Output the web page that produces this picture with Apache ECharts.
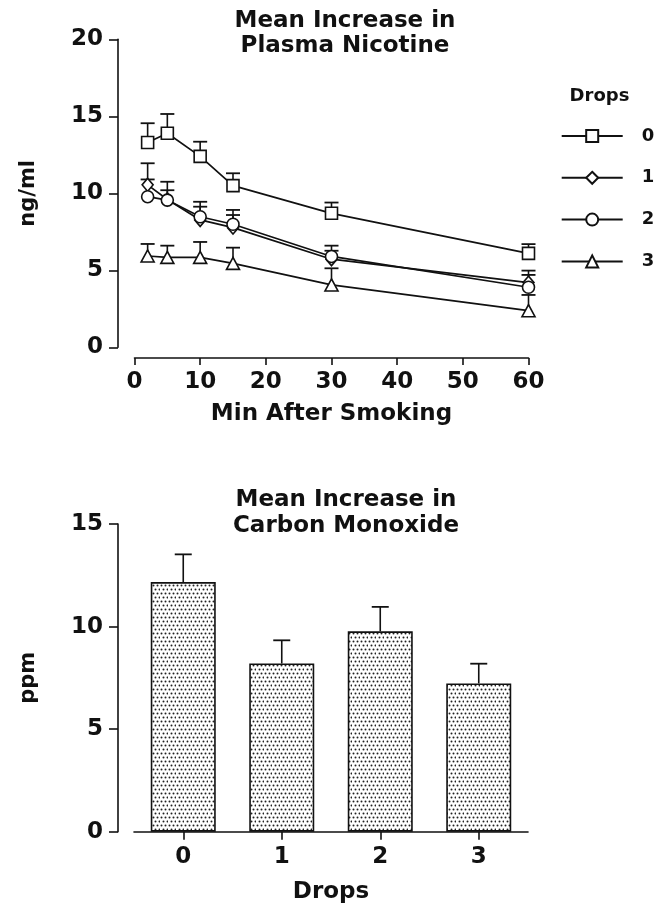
<!DOCTYPE html>
<html><head><meta charset="utf-8">
<script src="https://cdn.jsdelivr.net/npm/echarts@6/dist/echarts.min.js"></script>
<style>html,body{margin:0;padding:0;background:#fff}#c{width:666px;height:905px}</style>
</head><body><div id="c"></div>
<script>
// ---- data ----
const minutes = [2, 5, 10, 15, 30, 60];
const drops0 = [13.3, 13.9, 12.4, 10.5, 8.7, 6.1];
const drops0Err = [14.55, 15.15, 13.35, 11.3, 9.4, 6.7];
const drops1 = [10.55, 9.6, 8.27, 7.77, 5.72, 4.2];
const drops1Err = [11.95, 10.75, 9.45, 8.92, 6.6, 4.98];
const drops2 = [9.78, 9.56, 8.48, 7.99, 5.9, 3.9];
const drops2Err = [10.9, 10.2, 9.13, 8.59, 6.27, 4.7];
const drops3 = [5.93, 5.84, 5.84, 5.45, 4.05, 2.38];
const drops3Err = [6.71, 6.6, 6.84, 6.47, 5.13, 3.4];
const seriesNames = ['0', '1', '2', '3'];
const minuteTicks = [0, 10, 20, 30, 40, 50, 60];
const barCategories = ['0', '1', '2', '3'];
const coValues = [12.17, 8.2, 9.77, 7.23];
const coErr = [13.52, 9.33, 10.96, 8.19];

// ---- style ----
const F = 'DejaVu Sans';
const INK = '#111';
const pc = document.createElement('canvas');
pc.width = 8; pc.height = 8;
const g = pc.getContext('2d');
g.fillStyle = '#fff'; g.fillRect(0, 0, 8, 8);
g.fillStyle = '#222';
[[1, 1], [5, 1], [3, 5], [7, 5]].forEach(([x, y]) => { g.beginPath(); g.arc(x + 0.5, y + 0.5, 1.0, 0, Math.PI * 2); g.fill(); });

const chart = echarts.init(document.getElementById('c'), null, {renderer: 'canvas'});

function errSeries(data, capW, xi, yi) {
  return {
    type: 'custom', xAxisIndex: xi, yAxisIndex: yi, z: 1, silent: true,
    encode: {x: 0, y: [1, 2]},
    data: data,
    renderItem(params, api) {
      const p0 = api.coord([api.value(0), api.value(1)]);
      const p1 = api.coord([api.value(0), api.value(2)]);
      return {type: 'group', children: [
        {type: 'line', shape: {x1: p0[0], y1: p0[1], x2: p1[0], y2: p1[1]}, style: {stroke: INK, lineWidth: 1.6}},
        {type: 'line', shape: {x1: p1[0] - capW / 2, y1: p1[1], x2: p1[0] + capW / 2, y2: p1[1]}, style: {stroke: INK, lineWidth: 1.8}}
      ]};
    }
  };
}

const nic = [drops0, drops1, drops2, drops3];
const nicErr = [drops0Err, drops1Err, drops2Err, drops3Err];
const symbols = ['rect', 'diamond', 'circle', 'triangle'];
const symSizes = [12, [11, 13], 12, [13, 12]];

const series = [];
nic.forEach((vals, k) => {
  series.push(errSeries(minutes.map((m, i) => [m, vals[i], nicErr[k][i]]), 14, 0, 0));
});
nic.forEach((vals, k) => {
  series.push({
    name: seriesNames[k], type: 'line', xAxisIndex: 0, yAxisIndex: 0, z: 3 + k,
    data: minutes.map((m, i) => [m, vals[i]]),
    symbol: symbols[k], symbolSize: symSizes[k], showAllSymbol: true,
    lineStyle: {color: INK, width: 1.7},
    itemStyle: {color: '#fff', borderColor: INK, borderWidth: 1.6},
    emphasis: {disabled: true}
  });
});
series.push({
  type: 'bar', xAxisIndex: 1, yAxisIndex: 1, z: 2, barWidth: 65,
  data: coValues,
  itemStyle: {color: {image: pc, repeat: 'repeat'}, borderColor: INK, borderWidth: 1.6},
  emphasis: {disabled: true}
});
series.push(errSeries(barCategories.map((c, i) => [i, coValues[i], coErr[i]]), 17, 1, 1));

const tickLabel = {color: INK, fontFamily: F, fontWeight: 'bold', fontSize: 23};
const nameStyle = {color: INK, fontFamily: F, fontWeight: 'bold', fontSize: 23};
const axLine = {show: true, onZero: false, lineStyle: {color: INK, width: 1.6}};

chart.setOption({
  animation: false,
  backgroundColor: '#fff',
  grid: [
    {left: 134.5, top: 39.3, width: 394, height: 308},
    {left: 134, top: 524, width: 394, height: 307.7}
  ],
  xAxis: [
    {type: 'value', gridIndex: 0, min: 0, max: 60, interval: 10, offset: 10.7,
     axisLine: axLine, axisTick: {show: true, length: 7, lineStyle: {color: INK, width: 1.6}},
     axisLabel: Object.assign({margin: 13, formatter: v => minuteTicks.includes(v) ? String(v) : ''}, tickLabel),
     splitLine: {show: false},
     name: 'Min After Smoking', nameLocation: 'middle', nameGap: 45, nameTextStyle: nameStyle},
    {type: 'category', gridIndex: 1, data: barCategories,
     axisLine: axLine, axisTick: {show: true, alignWithLabel: true, length: 8, lineStyle: {color: INK, width: 1.6}},
     axisLabel: Object.assign({margin: 13.5}, tickLabel),
     name: 'Drops', nameLocation: 'middle', nameGap: 48.5, nameTextStyle: nameStyle}
  ],
  yAxis: [
    {type: 'value', gridIndex: 0, min: 0, max: 20, interval: 5, offset: 16.5,
     axisLine: axLine, axisTick: {show: true, length: 9, lineStyle: {color: INK, width: 1.6}},
     axisLabel: Object.assign({margin: 15}, tickLabel), splitLine: {show: false},
     name: 'ng/ml', nameLocation: 'middle', nameRotate: 90, nameGap: 79,
     nameTextStyle: {color: INK, fontFamily: F, fontWeight: 'bold', fontSize: 21}},
    {type: 'value', gridIndex: 1, min: 0, max: 15, interval: 5, offset: 16,
     axisLine: axLine, axisTick: {show: true, length: 9, lineStyle: {color: INK, width: 1.6}},
     axisLabel: Object.assign({margin: 15}, tickLabel), splitLine: {show: false},
     name: 'ppm', nameLocation: 'middle', nameRotate: 90, nameGap: 79,
     nameTextStyle: {color: INK, fontFamily: F, fontWeight: 'bold', fontSize: 21}}
  ],
  legend: {
    data: seriesNames, orient: 'vertical', left: 560.7, top: 127, padding: 0,
    itemWidth: 61, itemHeight: 15, itemGap: 23.8, selectedMode: false,
    textStyle: {color: INK, fontFamily: F, fontWeight: 'bold', fontSize: 18, padding: [0, 0, 0, 14]}
  },
  graphic: [
    {type: 'text', x: 345, y: 8.5, silent: true,
     style: {text: 'Mean Increase in\nPlasma Nicotine', align: 'center', verticalAlign: 'top',
       fontFamily: F, fontWeight: 'bold', fontSize: 23, lineHeight: 25, fill: INK}},
    {type: 'text', x: 346, y: 487, silent: true,
     style: {text: 'Mean Increase in\nCarbon Monoxide', align: 'center', verticalAlign: 'top',
       fontFamily: F, fontWeight: 'bold', fontSize: 23, lineHeight: 26, fill: INK}},
    {type: 'text', x: 599.5, y: 87, silent: true,
     style: {text: 'Drops', align: 'center', verticalAlign: 'top',
       fontFamily: F, fontWeight: 'bold', fontSize: 18, lineHeight: 19, fill: INK}}
  ],
  series: series
});
</script>
</body></html>
